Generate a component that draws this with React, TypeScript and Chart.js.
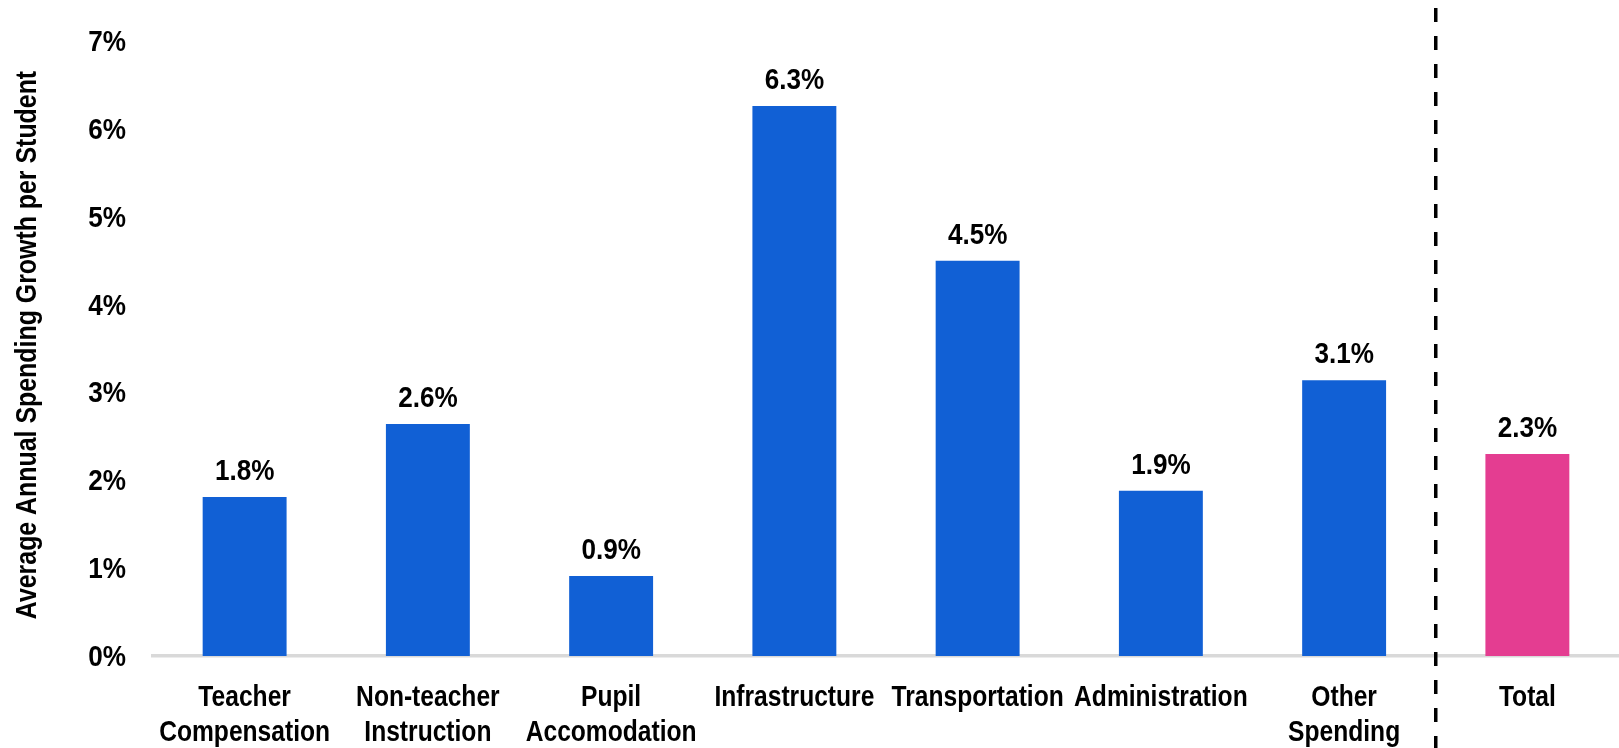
import React, { useEffect, useRef } from "react";
import { Chart, registerables } from "chart.js";

Chart.register(...registerables);

const categories: string[][] = [
  ["Teacher", "Compensation"],
  ["Non-teacher", "Instruction"],
  ["Pupil", "Accomodation"],
  ["Infrastructure"],
  ["Transportation"],
  ["Administration"],
  ["Other", "Spending"],
  ["Total"],
];
const growthValues = [1.81, 2.64, 0.91, 6.26, 4.5, 1.88, 3.14, 2.3];
const valueLabels = ["1.8%", "2.6%", "0.9%", "6.3%", "4.5%", "1.9%", "3.1%", "2.3%"];
const barColors = ["#1160d5", "#1160d5", "#1160d5", "#1160d5", "#1160d5", "#1160d5", "#1160d5", "#e43d91"];
const yTickValues = [0, 1, 2, 3, 4, 5, 6, 7];
const yTickLabels = ["0%", "1%", "2%", "3%", "4%", "5%", "6%", "7%"];
const yAxisTitle = "Average Annual Spending Growth per Student";

const FONT = "bold 30px 'Liberation Sans', Arial, sans-serif";

function drawCondensed(ctx: CanvasRenderingContext2D, text: string, x: number, y: number, sx: number, align: CanvasTextAlign) {
  ctx.save();
  ctx.translate(x, y);
  ctx.scale(sx, 1);
  ctx.textAlign = align;
  ctx.textBaseline = "alphabetic";
  ctx.fillText(text, 0, 0);
  ctx.restore();
}

const textPlugin = {
  id: "condensedText",
  afterDatasetsDraw(chart: any) {
    const ctx: CanvasRenderingContext2D = chart.ctx;
    const xs = chart.scales.x;
    const ys = chart.scales.y;
    ctx.save();
    ctx.font = FONT;
    ctx.fillStyle = "#000";
    // value labels
    const meta = chart.getDatasetMeta(0);
    meta.data.forEach((bar: any, i: number) => {
      drawCondensed(ctx, valueLabels[i], bar.x, bar.y - 17, 0.87, "center");
    });
    // y ticks
    yTickValues.forEach((v, i) => {
      drawCondensed(ctx, yTickLabels[i], chart.chartArea.left - 27, ys.getPixelForValue(v) + 10, 0.87, "right");
    });
    // x labels
    categories.forEach((lines, i) => {
      const px = xs.getPixelForValue(i);
      lines.forEach((t, j) => {
        drawCondensed(ctx, t, px, chart.chartArea.bottom + 50 + j * 34.5, 0.82, "center");
      });
    });
    // y title
    ctx.translate(36, 345);
    ctx.rotate(-Math.PI / 2);
    ctx.scale(0.83, 1);
    ctx.textAlign = "center";
    ctx.textBaseline = "alphabetic";
    ctx.fillText(yAxisTitle, 0, 0);
    ctx.restore();
  },
};

const dividerPlugin = {
  id: "divider",
  afterDraw(chart: any) {
    const ctx = chart.ctx;
    const x = chart.scales.x;
    const px = (x.getPixelForValue(6) + x.getPixelForValue(7)) / 2;
    ctx.save();
    ctx.strokeStyle = "#000";
    ctx.lineWidth = 3.5;
    ctx.setLineDash([14, 14]);
    ctx.lineDashOffset = 20;
    ctx.beginPath();
    ctx.moveTo(px, 0);
    ctx.lineTo(px, chart.height);
    ctx.stroke();
    ctx.restore();
  },
};

export default function App() {
  const ref = useRef<HTMLCanvasElement | null>(null);
  useEffect(() => {
    if (!ref.current) return;
    const chart = new Chart(ref.current, {
      type: "bar",
      data: {
        labels: categories.map((c) => c.join(" ")),
        datasets: [
          {
            data: growthValues,
            backgroundColor: barColors,
            borderWidth: 0,
            categoryPercentage: 1,
            barPercentage: 0.458,
          },
        ],
      },
      options: {
        animation: false,
        responsive: false,
        maintainAspectRatio: false,
        layout: { padding: { top: 41, right: -3, left: 0, bottom: 0 } },
        plugins: { legend: { display: false }, tooltip: { enabled: false } },
        scales: {
          x: {
            grid: { display: false, drawTicks: false },
            border: { display: true, color: "#d9d9d9", width: 3.5 },
            ticks: { display: false },
            afterFit(scale: any) {
              scale.height = 92;
            },
          },
          y: {
            min: 0,
            max: 7,
            grid: { display: false, drawTicks: false },
            border: { display: false },
            ticks: { display: false, stepSize: 1 },
            afterFit(scale: any) {
              scale.width = 153;
            },
          },
        },
      },
      plugins: [textPlugin, dividerPlugin],
    });
    return () => chart.destroy();
  }, []);
  return (
    <div style={{ position: "fixed", left: 0, top: 0, width: 1619, height: 748, background: "#fff" }}>
      <canvas ref={ref} width={1619} height={748} style={{ width: 1619, height: 748 }} />
    </div>
  );
}
